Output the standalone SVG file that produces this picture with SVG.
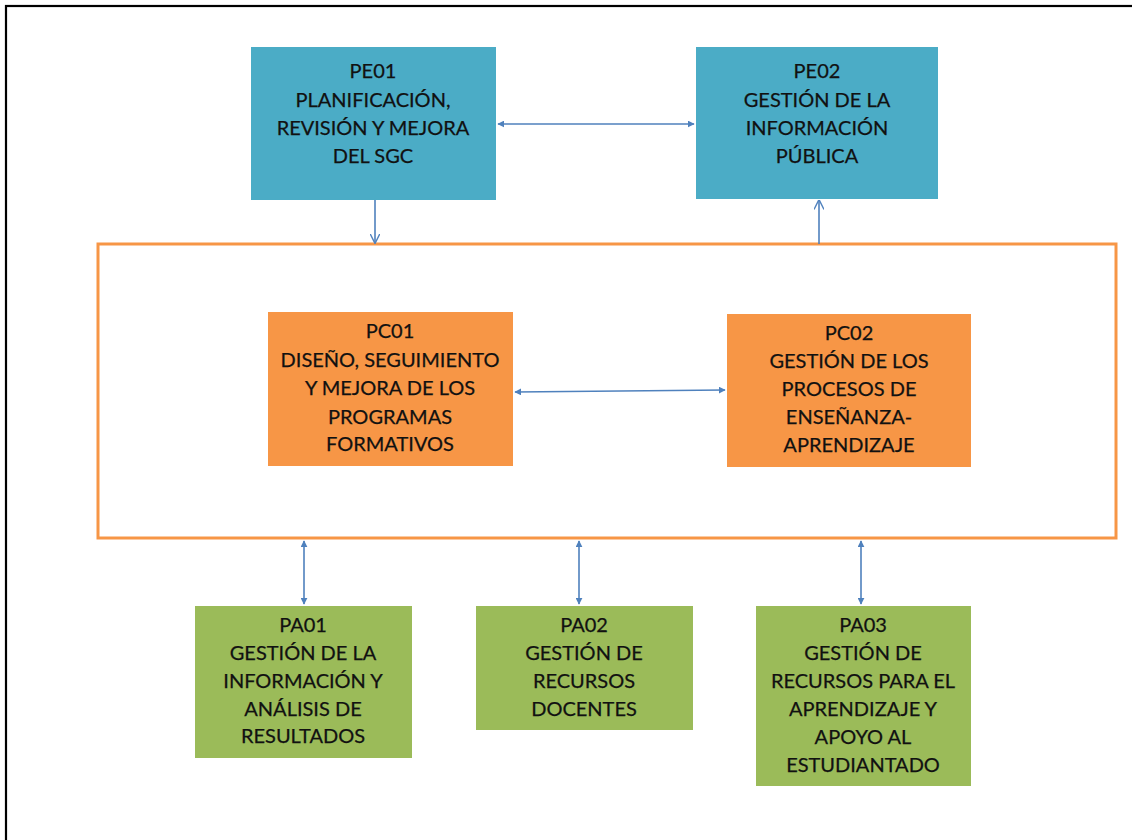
<svg xmlns="http://www.w3.org/2000/svg" width="1132" height="840" viewBox="0 0 1132 840">
<defs>
<style>
.pe{fill:#4BACC6}
.pc{fill:#F79646}
.pa{fill:#9BBB59}
.t{font-family:Lato,"Open Sans","Liberation Sans",sans-serif;font-size:20px;fill:#111;text-anchor:middle;stroke:#111;stroke-width:0.25}
.c{stroke:#4F81BD;stroke-width:1.6;fill:none}
</style>
<marker id="tri" viewBox="0 0 10 10" refX="9" refY="5" markerWidth="7" markerHeight="7" orient="auto-start-reverse" markerUnits="userSpaceOnUse">
<path d="M0,0 L10,5 L0,10 Z" fill="#4F81BD"/>
</marker>
<marker id="vee" viewBox="0 0 10 10" refX="9.5" refY="5" markerWidth="10" markerHeight="10" orient="auto" markerUnits="userSpaceOnUse">
<path d="M0,0 L10,5 L0,10" fill="none" stroke="#4F81BD" stroke-width="1.4"/>
</marker>
</defs>
<rect x="0" y="0" width="1132" height="840" fill="#fff"/>
<rect x="6" y="6" width="1140" height="850" fill="none" stroke="#000" stroke-width="2.2"/>
<g id="container">
<rect x="98" y="244" width="1018" height="294" fill="none" stroke="#F79646" stroke-width="3"/>
</g>
<g id="connectors">
<line class="c" x1="375" y1="200" x2="375" y2="243" marker-end="url(#vee)"/>
<line class="c" x1="819" y1="244" x2="819" y2="200" marker-end="url(#vee)"/>
<line class="c" x1="498" y1="124" x2="694" y2="124" marker-start="url(#tri)" marker-end="url(#tri)"/>
<line class="c" x1="515" y1="392" x2="725" y2="390" marker-start="url(#tri)" marker-end="url(#tri)"/>
<line class="c" x1="304" y1="541" x2="304" y2="604" marker-start="url(#tri)" marker-end="url(#tri)"/>
<line class="c" x1="579" y1="541" x2="579" y2="604" marker-start="url(#tri)" marker-end="url(#tri)"/>
<line class="c" x1="861" y1="541" x2="861" y2="604" marker-start="url(#tri)" marker-end="url(#tri)"/>
</g>
<g id="PE01">
<rect class="pe" x="251" y="47" width="245" height="153"/>
<text class="t" x="373" y="78">PE01</text>
<text class="t" x="373" y="107">PLANIFICACIÓN,</text>
<text class="t" x="373" y="135">REVISIÓN Y MEJORA</text>
<text class="t" x="373" y="163">DEL SGC</text>
</g>
<g id="PE02">
<rect class="pe" x="696" y="47" width="242" height="152"/>
<text class="t" x="817" y="78">PE02</text>
<text class="t" x="817" y="107">GESTIÓN DE LA</text>
<text class="t" x="817" y="135">INFORMACIÓN</text>
<text class="t" x="817" y="163">PÚBLICA</text>
</g>
<g id="PC01">
<rect class="pc" x="268" y="312" width="245" height="154"/>
<text class="t" x="390" y="338">PC01</text>
<text class="t" x="390" y="367">DISEÑO, SEGUIMIENTO</text>
<text class="t" x="390" y="395">Y MEJORA DE LOS</text>
<text class="t" x="390" y="424">PROGRAMAS</text>
<text class="t" x="390" y="451">FORMATIVOS</text>
</g>
<g id="PC02">
<rect class="pc" x="727" y="314" width="244" height="153"/>
<text class="t" x="849" y="340">PC02</text>
<text class="t" x="849" y="368">GESTIÓN DE LOS</text>
<text class="t" x="849" y="396">PROCESOS DE</text>
<text class="t" x="849" y="424">ENSEÑANZA-</text>
<text class="t" x="849" y="452">APRENDIZAJE</text>
</g>
<g id="PA01">
<rect class="pa" x="195" y="606" width="217" height="152"/>
<text class="t" x="303" y="632">PA01</text>
<text class="t" x="303" y="660">GESTIÓN DE LA</text>
<text class="t" x="303" y="688">INFORMACIÓN Y</text>
<text class="t" x="303" y="716">ANÁLISIS DE</text>
<text class="t" x="303" y="743">RESULTADOS</text>
</g>
<g id="PA02">
<rect class="pa" x="476" y="606" width="217" height="124"/>
<text class="t" x="584" y="632">PA02</text>
<text class="t" x="584" y="660">GESTIÓN DE</text>
<text class="t" x="584" y="688">RECURSOS</text>
<text class="t" x="584" y="716">DOCENTES</text>
</g>
<g id="PA03">
<rect class="pa" x="756" y="606" width="215" height="180"/>
<text class="t" x="863" y="632">PA03</text>
<text class="t" x="863" y="660">GESTIÓN DE</text>
<text class="t" x="863" y="688">RECURSOS PARA EL</text>
<text class="t" x="863" y="716">APRENDIZAJE Y</text>
<text class="t" x="863" y="744">APOYO AL</text>
<text class="t" x="863" y="772">ESTUDIANTADO</text>
</g>
</svg>
